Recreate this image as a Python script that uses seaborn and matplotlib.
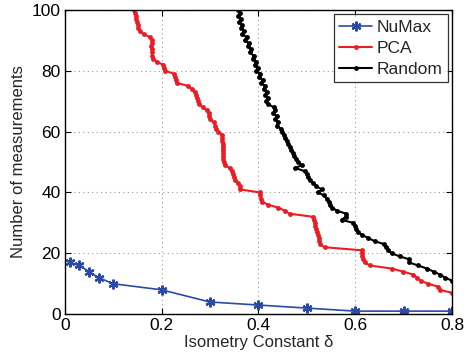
import numpy as np
import pandas as pd
import matplotlib
matplotlib.use("Agg")
import matplotlib.pyplot as plt
import seaborn as sns

# NuMax
numax_delta = [0.01, 0.03, 0.05, 0.07, 0.1, 0.2, 0.3, 0.4, 0.5, 0.6, 0.7, 0.8]
numax_m = [17, 16, 14, 12, 10, 8, 4, 3, 2, 1, 1, 1]

# PCA: measurements 100 down to 7
pca_m = list(range(100, 6, -1))
pca_delta = [
    0.143, 0.145, 0.147, 0.148, 0.150, 0.151, 0.152, 0.155, 0.163, 0.177,  # 100-91
    0.180, 0.180, 0.179, 0.180, 0.180, 0.181, 0.182, 0.190, 0.203, 0.205,  # 90-81
    0.208, 0.225, 0.228, 0.229, 0.232, 0.255, 0.262, 0.269, 0.272, 0.274,  # 80-71
    0.275, 0.277, 0.285, 0.293, 0.297, 0.298, 0.300, 0.308, 0.311, 0.313,  # 70-61
    0.317, 0.324, 0.325, 0.325, 0.326, 0.326, 0.326, 0.327, 0.327, 0.327,  # 60-51
    0.328, 0.330, 0.341, 0.345, 0.347, 0.349, 0.352, 0.358, 0.362, 0.362,  # 50-41
    0.403, 0.404, 0.405, 0.407, 0.420, 0.441, 0.455, 0.465, 0.513, 0.515,  # 40-31
    0.516, 0.517, 0.519, 0.521, 0.524, 0.525, 0.526, 0.527, 0.537, 0.613,  # 30-21
    0.614, 0.615, 0.616, 0.620, 0.630, 0.675, 0.699, 0.720, 0.728, 0.735,  # 20-11
    0.751, 0.772, 0.775, 0.800,                                            # 10-7
]

# Random: measurements 100 down to 11
rand_m = list(range(100, 10, -1))
rand_delta = [
    0.358, 0.362, 0.358, 0.364, 0.360, 0.367, 0.364, 0.371, 0.367, 0.376,  # 100-91
    0.372, 0.380, 0.378, 0.385, 0.382, 0.390, 0.388, 0.396, 0.392, 0.399,  # 90-81
    0.396, 0.404, 0.401, 0.409, 0.406, 0.414, 0.411, 0.417, 0.414, 0.419,  # 80-71
    0.416, 0.420, 0.432, 0.434, 0.431, 0.438, 0.435, 0.441, 0.438, 0.446,  # 70-61
    0.448, 0.453, 0.455, 0.460, 0.462, 0.466, 0.468, 0.472, 0.474, 0.478,  # 60-51
    0.482, 0.490, 0.476, 0.496, 0.500, 0.503, 0.506, 0.513, 0.520, 0.531,  # 50-41
    0.524, 0.535, 0.541, 0.545, 0.548, 0.553, 0.562, 0.582, 0.580, 0.572,  # 40-31
    0.596, 0.599, 0.601, 0.605, 0.615, 0.627, 0.640, 0.660, 0.664, 0.667,  # 30-21
    0.675, 0.692, 0.712, 0.711, 0.730, 0.748, 0.762, 0.775, 0.786, 0.800,  # 20-11
]

x_ticks = [0, 0.2, 0.4, 0.6, 0.8]
x_ticklabels = ["0", "0.2", "0.4", "0.6", "0.8"]
y_ticks = [0, 20, 40, 60, 80, 100]

sns.set_style("ticks")
plt.rcParams["font.family"] = ["Liberation Sans", "DejaVu Sans"]

fig = plt.figure(figsize=(4.66, 3.53), dpi=100)
ax = fig.add_axes([0.139, 0.110, 0.831, 0.862])

df_n = pd.DataFrame({"delta": numax_delta, "m": numax_m})
df_p = pd.DataFrame({"delta": pca_delta, "m": pca_m})
df_r = pd.DataFrame({"delta": rand_delta, "m": rand_m})

blue = "#2b4aa6"
red = "#ec1c24"

sns.lineplot(data=df_n, x="delta", y="m", ax=ax, sort=False, estimator=None,
             color=blue, linewidth=1.2, marker=(6, 2, 0), markersize=7,
             markeredgewidth=1.6, markeredgecolor=blue, label="NuMax")
sns.lineplot(data=df_p, x="delta", y="m", ax=ax, sort=False, estimator=None,
             color=red, linewidth=1.5, marker="o", markersize=3.5,
             markeredgewidth=0, label="PCA")
sns.lineplot(data=df_r, x="delta", y="m", ax=ax, sort=False, estimator=None,
             color="black", linewidth=1.5, marker="o", markersize=3.5,
             markeredgewidth=0, label="Random")

ax.set_xlim(0, 0.8)
ax.set_ylim(0, 100)
ax.set_xticks(x_ticks)
ax.set_xticklabels(x_ticklabels)
ax.set_yticks(y_ticks)
ax.grid(True, linestyle=(0, (1, 3)), color="#999999", linewidth=0.8)
ax.tick_params(direction="in", length=4, width=0.8, top=True, right=True,
               labelsize=12.5, pad=3, colors="black")
for s in ax.spines.values():
    s.set_visible(True)
    s.set_linewidth(1.0)
    s.set_color("black")

ax.set_xlabel("Isometry Constant δ", fontsize=12, labelpad=1)
ax.set_ylabel("Number of measurements", fontsize=12, labelpad=4)

leg = ax.legend(loc="upper right", fontsize=12.5, frameon=True, fancybox=False,
                edgecolor="black", borderpad=0.3, labelspacing=0.35,
                handlelength=1.9, handletextpad=0.25, borderaxespad=0.25)
leg.get_frame().set_linewidth(0.9)

fig.savefig("out.png", dpi=100)
